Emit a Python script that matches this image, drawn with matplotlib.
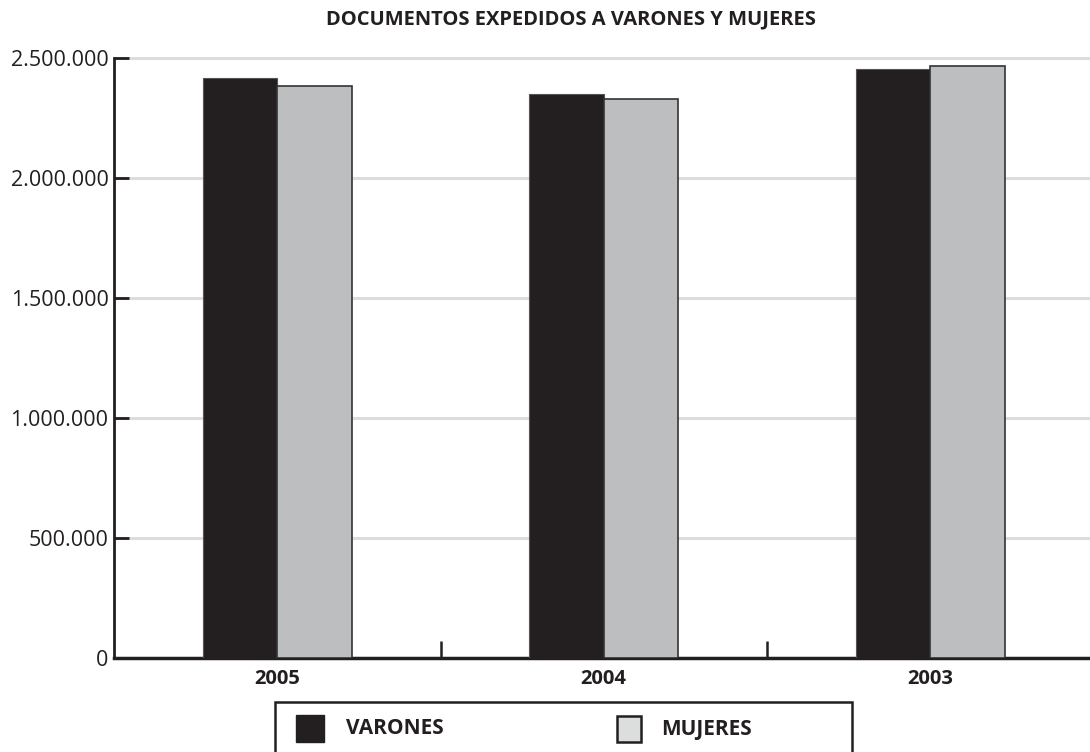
import matplotlib
matplotlib.use("Agg")
import matplotlib.pyplot as plt
from matplotlib.patches import Rectangle
from matplotlib.ticker import FuncFormatter
import numpy as np

years = ["2005", "2004", "2003"]
varones = [2417000, 2351000, 2456000]
mujeres = [2387000, 2332000, 2467000]
yticks = [0, 500000, 1000000, 1500000, 2000000, 2500000]
title = "DOCUMENTOS EXPEDIDOS A VARONES Y MUJERES"
series_names = ["VARONES", "MUJERES"]

c_var = "#231f20"
c_muj = "#bcbec0"
c_muj_leg = "#dcdddd"
c_ink = "#231f20"

plt.rcParams['font.family'] = ['Open Sans', 'DejaVu Sans']

fig = plt.figure(figsize=(10.9, 7.52), dpi=100)
ax = fig.add_axes([114/1090, 1-658/752, 1-114/1090, (658-46.5)/752])

x = np.arange(len(years))
w = 0.228
ax.bar(x - w/2, varones, width=w, color=c_var, edgecolor="#555555", linewidth=0.8, zorder=3)
ax.bar(x + w/2, mujeres, width=w, color=c_muj, edgecolor="#333333", linewidth=1.2, zorder=3)

ax.set_xlim(-0.5, (1090-114)/326.5 - 0.5)
ax.set_ylim(0, 2.55e6)
ax.set_yticks(yticks)
ax.yaxis.set_major_formatter(FuncFormatter(lambda v, p: f"{int(v):,}".replace(",", ".")))
ax.grid(axis='y', color="#dcdcdc", linewidth=2.2, zorder=0)
ax.tick_params(axis='y', direction='in', length=11, width=2, color=c_ink, pad=4,
               labelsize=15.5, labelcolor=c_ink)

ax.set_xticks(x)
ax.set_xticklabels(years, fontweight='bold', fontsize=14.5, color=c_ink)
ax.set_xticks([0.5, 1.5], minor=True)
ax.tick_params(axis='x', which='major', length=0, pad=8)
ax.tick_params(axis='x', which='minor', direction='in', length=12, width=1.8, color=c_ink)

for s in ['top', 'right']:
    ax.spines[s].set_visible(False)
ax.spines['left'].set_bounds(0, 2.5e6)
ax.spines['left'].set_linewidth(2)
ax.spines['left'].set_color(c_ink)
ax.spines['bottom'].set_linewidth(2.5)
ax.spines['bottom'].set_color(c_ink)

fig.text(571/1090, 1-19/752, title, ha='center', va='center', fontsize=14.5, fontweight='bold', color=c_ink)

# legend box (extends past bottom of figure)
fig.patches.append(Rectangle((275/1090, -0.02), (852-275)/1090, (0.02 + 1-702/752),
                             transform=fig.transFigure, facecolor='white', edgecolor=c_ink,
                             linewidth=1.8, clip_on=False))
fig.patches.append(Rectangle((296/1090, 1-742/752), 28/1090, 27/752, transform=fig.transFigure,
                             facecolor=c_var, edgecolor=c_var, linewidth=1))
fig.patches.append(Rectangle((617/1090, 1-742/752), 24/1090, 26/752, transform=fig.transFigure,
                             facecolor=c_muj_leg, edgecolor=c_ink, linewidth=1.8))
fig.text(346/1090, 1-729/752, series_names[0], ha='left', va='center', fontsize=15, fontweight='bold', color=c_ink)
fig.text(661/1090, 1-729/752, series_names[1], ha='left', va='center', fontsize=15, fontweight='bold', color=c_ink)

fig.savefig("out.png", dpi=100)
